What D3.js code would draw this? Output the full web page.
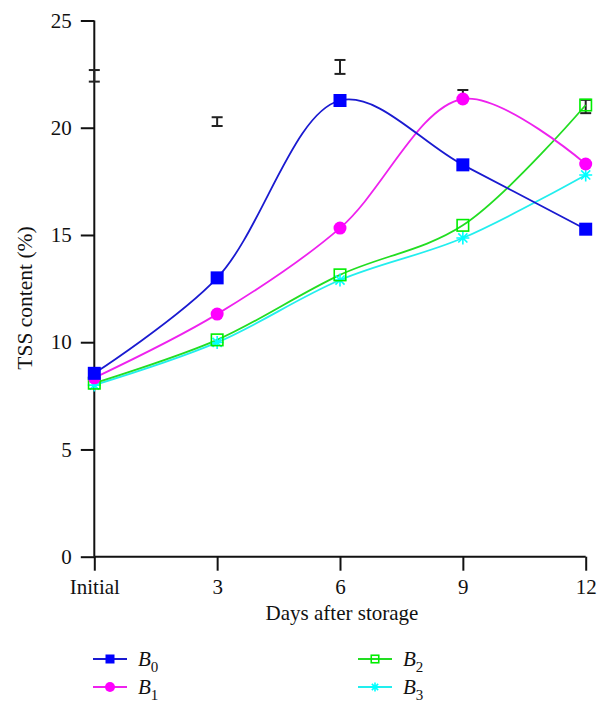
<!DOCTYPE html>
<html>
<head>
<meta charset="utf-8">
<script src="https://cdn.jsdelivr.net/npm/d3@7"></script>
<style>
  html, body { margin: 0; padding: 0; background: #fff; }
  svg { display: block; }
  text { font-family: "Liberation Serif", "DejaVu Serif", serif; fill: #111; }
</style>
</head>
<body>
<svg id="chart" width="608" height="712"></svg>
<script>
// ---- data ----
const categories = ["Initial", "3", "6", "9", "12"];
const yTicks = [0, 5, 10, 15, 20, 25];
const seriesNames = ["B0", "B1", "B2", "B3"];
const b0 = [8.55, 13.0, 21.27, 18.27, 15.27];
const b1 = [8.34, 11.31, 15.32, 21.34, 18.31];
const b2 = [8.09, 10.11, 13.14, 15.45, 21.06];
const b3 = [8.0, 9.99, 12.9, 14.86, 17.8];
const errLow  = [22.15, 20.08, 22.51, 21.30, 20.68];
const errHigh = [22.69, 20.49, 23.16, 21.76, 21.30];

const svg = d3.select("#chart");

const x = d3.scalePoint().domain(categories).range([94.3, 585.7]);
const y = d3.scaleLinear().domain([0, 25]).range([556.7, 20.5]);

const colors = { B0: "#0000ff", B1: "#ff00ff", B2: "#00ee00", B3: "#00ffff" };
const lineColors = { B0: "#1a1ad0", B1: "#ee22ee", B2: "#22dd22", B3: "#22eeee" };
const seriesData = { B0: b0, B1: b1, B2: b2, B3: b3 };

// axes
const yAxis = d3.axisLeft(y).tickValues(yTicks).tickSize(13.5).tickPadding(9);
const gy = svg.append("g").attr("transform", `translate(${x(categories[0])},0)`).call(yAxis);
const xAxis = d3.axisBottom(x).tickSize(14).tickPadding(8);
const gx = svg.append("g").attr("transform", `translate(0,${y(0)})`).call(xAxis);
[gx, gy].forEach(g => {
  g.select(".domain").attr("stroke", "#111").attr("stroke-width", 2);
  g.selectAll(".tick line").attr("stroke", "#111").attr("stroke-width", 2);
  g.selectAll(".tick text").style("font-family", '"Liberation Serif", serif').style("font-size", "21px").attr("fill", "#111");
});
gy.select(".domain").attr("d", `M0,${y(25)}V${y(0)}`);
gx.select(".domain").attr("d", `M${x(categories[0])},0H${x(categories[4])}`);

// axis titles
svg.append("text").attr("x", 342).attr("y", 620).attr("text-anchor", "middle")
  .style("font-size", "21px").text("Days after storage");
svg.append("text").attr("transform", "translate(32,298) rotate(-90)").attr("text-anchor", "middle")
  .style("font-size", "21.5px").text("TSS content (%)");

// error bars
const eg = svg.append("g");
categories.forEach((c, i) => {
  const cx = x(c);
  eg.append("line").attr("x1", cx).attr("x2", cx).attr("y1", y(errLow[i])).attr("y2", y(errHigh[i]))
    .attr("stroke", "#222").attr("stroke-width", 2);
  [errLow[i], errHigh[i]].forEach(v => {
    eg.append("line").attr("x1", cx - 5.5).attr("x2", cx + 5.5).attr("y1", y(v)).attr("y2", y(v))
      .attr("stroke", "#222").attr("stroke-width", 2);
  });
});

// lines
const line = d3.line().x((d, i) => x(categories[i])).y(d => y(d)).curve(d3.curveCatmullRom.alpha(0.5));
["B3", "B2", "B1", "B0"].forEach(s => {
  svg.append("path").attr("d", line(seriesData[s])).attr("fill", "none")
    .attr("stroke", lineColors[s]).attr("stroke-width", 1.8);
});

// markers
function marker(g, s, cx, cy, size) {
  if (s === "B0") {
    g.append("rect").attr("x", cx - size / 2).attr("y", cy - size / 2).attr("width", size).attr("height", size)
      .attr("fill", colors.B0);
  } else if (s === "B1") {
    g.append("circle").attr("cx", cx).attr("cy", cy).attr("r", size / 2).attr("fill", colors.B1);
  } else if (s === "B2") {
    const sz = size - 1.5;
    g.append("rect").attr("x", cx - sz / 2).attr("y", cy - sz / 2).attr("width", sz).attr("height", sz)
      .attr("fill", "none").attr("stroke", colors.B2).attr("stroke-width", 1.6);
  } else {
    const r = size / 2;
    const p = d3.path();
    p.moveTo(cx - r, cy); p.lineTo(cx + r, cy);
    p.moveTo(cx - r * 0.7, cy - r * 0.7); p.lineTo(cx + r * 0.7, cy + r * 0.7);
    p.moveTo(cx - r * 0.7, cy + r * 0.7); p.lineTo(cx + r * 0.7, cy - r * 0.7);
    p.moveTo(cx, cy - r); p.lineTo(cx, cy + r);
    g.append("path").attr("d", p.toString()).attr("stroke", colors.B3).attr("stroke-width", 1.6).attr("fill", "none");
  }
}
const mg = svg.append("g");
["B3", "B2", "B1", "B0"].forEach(s => {
  seriesData[s].forEach((v, i) => marker(mg, s, x(categories[i]), y(v), 13));
});

// legend
const legendPos = [
  { s: "B0", x: 93, y: 659 },
  { s: "B1", x: 93, y: 687 },
  { s: "B2", x: 358, y: 659 },
  { s: "B3", x: 358, y: 687 }
];
legendPos.forEach(d => {
  const g = svg.append("g");
  g.append("line").attr("x1", d.x).attr("x2", d.x + 34).attr("y1", d.y).attr("y2", d.y)
    .attr("stroke", lineColors[d.s]).attr("stroke-width", 1.8);
  marker(g, d.s, d.x + 17, d.y, d.s === "B1" ? 10 : 9);
  const t = g.append("text").attr("x", d.x + 45).attr("y", d.y + 7).style("font-size", "21px");
  t.append("tspan").style("font-style", "italic").text("B");
  t.append("tspan").attr("dy", 6).style("font-size", "15px").text(d.s.slice(1));
});
</script>
</body>
</html>
